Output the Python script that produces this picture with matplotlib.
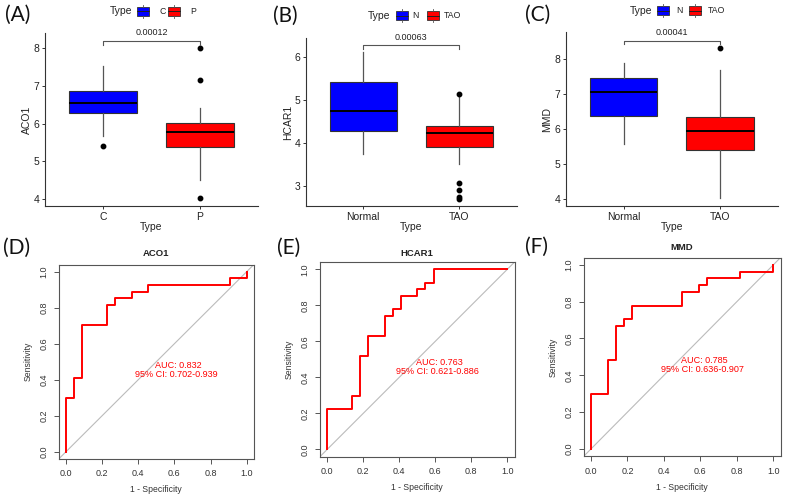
import matplotlib
matplotlib.use('Agg')
import matplotlib.pyplot as plt
from matplotlib.patches import Rectangle

W, H = 785, 499
plt.rcParams['font.family'] = ['Liberation Sans', 'DejaVu Sans']

# ---------------- data ----------------
genes = ['ACO1', 'HCAR1', 'MMD']
group_labels = [['C', 'P'], ['Normal', 'TAO'], ['Normal', 'TAO']]
legend_labels = [['C', 'P'], ['N', 'TAO'], ['N', 'TAO']]
pvalues = ['0.00012', '0.00063', '0.00041']

# box stats: [whisker low, Q1, median, Q3, whisker high]
aco1_ctrl = [5.68, 6.28, 6.55, 6.88, 7.52]
aco1_ctrl_out = [5.41]
aco1_case = [4.50, 5.39, 5.77, 6.03, 6.41]
aco1_case_out = [8.01, 7.16, 4.02]

hcar1_ctrl = [3.73, 4.27, 4.74, 5.40, 6.10]
hcar1_ctrl_out = []
hcar1_case = [3.50, 3.91, 4.22, 4.39, 5.05]
hcar1_case_out = [5.14, 3.06, 2.91, 2.75, 2.70]

mmd_ctrl = [5.56, 6.38, 7.06, 7.45, 7.89]
mmd_ctrl_out = []
mmd_case = [4.02, 5.39, 5.95, 6.35, 7.68]
mmd_case_out = [8.33]

box_yticks = [[4, 5, 6, 7, 8], [3, 4, 5, 6], [4, 5, 6, 7, 8]]
box_ylims = [(3.81, 8.41), (2.53, 6.43), (3.80, 8.77)]
bracket_y = [(8.10, 8.20), (6.17, 6.27), (8.43, 8.53)]

# ROC curve vertices (1 - specificity, sensitivity), step-post
roc_aco1_x = [0.0, 0.0, 0.045, 0.091, 0.227, 0.273, 0.364, 0.455, 0.909, 1.0]
roc_aco1_y = [0.0, 0.296, 0.407, 0.704, 0.815, 0.852, 0.889, 0.926, 0.963, 1.0]
roc_hcar1_x = [0.0, 0.0, 0.136, 0.182, 0.227, 0.318, 0.364, 0.409, 0.5, 0.545, 0.591, 1.0]
roc_hcar1_y = [0.0, 0.222, 0.296, 0.519, 0.630, 0.741, 0.778, 0.852, 0.889, 0.926, 1.0, 1.0]
roc_mmd_x = [0.0, 0.0, 0.091, 0.136, 0.182, 0.227, 0.5, 0.591, 0.636, 0.818, 1.0]
roc_mmd_y = [0.0, 0.296, 0.481, 0.667, 0.704, 0.778, 0.852, 0.889, 0.926, 0.963, 1.0]
auc_labels = ['AUC: 0.832', 'AUC: 0.763', 'AUC: 0.785']
ci_labels = ['95% CI: 0.702-0.939', '95% CI: 0.621-0.886', '95% CI: 0.636-0.907']
roc_ticks = [0.0, 0.2, 0.4, 0.6, 0.8, 1.0]

box_sets = [
    (aco1_ctrl, aco1_ctrl_out, aco1_case, aco1_case_out),
    (hcar1_ctrl, hcar1_ctrl_out, hcar1_case, hcar1_case_out),
    (mmd_ctrl, mmd_ctrl_out, mmd_case, mmd_case_out),
]
roc_sets = [(roc_aco1_x, roc_aco1_y), (roc_hcar1_x, roc_hcar1_y), (roc_mmd_x, roc_mmd_y)]

# ---------------- layout (pixels: left, right, top, bottom) ----------------
box_boxes = [(45, 258, 33, 206), (305.7, 516.7, 38, 206), (565.7, 778, 32.3, 206)]
box_ylab_x = [27, 288.3, 546.7]
box_xlab_y = [227, 227, 227]
roc_boxes = [(58.8, 253.9, 264.5, 458.9), (320.1, 514.5, 262.1, 456.5), (583.7, 780.6, 257.5, 456.3)]
roc_ylab_x = [28, 289.3, 552.7]
roc_xlab_y = [489, 487.7, 487.7]
roc_title_y = [253, 253, 248]

fig = plt.figure(figsize=(W / 100, H / 100), dpi=100)


def add_ax(b):
    l, r, t, bt = b
    return fig.add_axes([l / W, 1 - bt / H, (r - l) / W, (bt - t) / H])


def fx(b, x):
    return (x - b[0]) / (b[1] - b[0])


def fy(b, y):
    return (b[3] - y) / (b[3] - b[2])


BLUE = '#0000FF'
RED = '#FF0000'
EDGE = '#333333'

for i in range(3):
    b = box_boxes[i]
    ax = add_ax(b)
    c, co, p, po = box_sets[i]
    stats = []
    for s, o in ((c, co), (p, po)):
        stats.append(dict(whislo=s[0], q1=s[1], med=s[2], q3=s[3], whishi=s[4], fliers=o))
    bp = ax.bxp(stats, positions=[1, 2], widths=0.7, patch_artist=True, showcaps=False,
                boxprops=dict(edgecolor=EDGE, linewidth=0.8),
                medianprops=dict(color='black', linewidth=1.4),
                whiskerprops=dict(color='#555555', linewidth=0.9),
                flierprops=dict(marker='o', markerfacecolor='black', markeredgecolor='black',
                                markersize=3.2, linestyle='none'))
    for patch, col in zip(bp['boxes'], [BLUE, RED]):
        patch.set_facecolor(col)
    ax.set_xlim(0.4, 2.6)
    ax.set_ylim(*box_ylims[i])
    ax.set_yticks(box_yticks[i])
    ax.set_xticks([1, 2])
    ax.set_xticklabels(group_labels[i])
    for sp in ['top', 'right']:
        ax.spines[sp].set_visible(False)
    for sp in ['left', 'bottom']:
        ax.spines[sp].set_color(EDGE)
        ax.spines[sp].set_linewidth(0.8)
    ax.tick_params(axis='both', length=2.5, width=0.7, color=EDGE, labelsize=7.5,
                   labelcolor='#222222', pad=1.5)
    # bracket
    y0, y1 = bracket_y[i]
    ax.plot([1, 1, 2, 2], [y0, y1, y1, y0], color='#555555', lw=0.8)
    ax.text(1.5, y1 + 0.02 * (box_ylims[i][1] - box_ylims[i][0]), pvalues[i],
            ha='center', va='bottom', fontsize=6.5, color='#222222')
    ax.set_ylabel(genes[i], fontsize=7.5, color='#222222')
    ax.set_xlabel('Type', fontsize=7.5, color='#222222')
    ax.yaxis.set_label_coords(fx(b, box_ylab_x[i]), 0.5)
    ax.yaxis.label.set_va('center')
    ax.xaxis.set_label_coords(0.5, fy(b, box_xlab_y[i]))
    ax.xaxis.label.set_va('center')

for i in range(3):
    b = roc_boxes[i]
    ax = add_ax(b)
    ax.axline((0, 0), (1, 1), color='#bbbbbb', lw=0.8)
    xs, ys = roc_sets[i]
    ax.step(xs, ys, where='post', color=RED, lw=1.4)
    ax.set_xlim(-0.04, 1.04)
    ax.set_ylim(-0.04, 1.04)
    ax.set_xticks(roc_ticks)
    ax.set_yticks(roc_ticks)
    ax.set_xticklabels(['%.1f' % t for t in roc_ticks])
    ax.set_yticklabels(['%.1f' % t for t in roc_ticks], rotation=90, va='center')
    for sp in ax.spines.values():
        sp.set_color('#555555')
        sp.set_linewidth(0.8)
    ax.tick_params(axis='both', direction='out', length=3.5, width=0.7, color='#555555',
                   labelsize=6.5, labelcolor='#333333', pad=4)
    ax.text(0.62, 0.48, auc_labels[i], color=RED, fontsize=6.5, ha='center', va='center')
    ax.text(0.61, 0.43, ci_labels[i], color=RED, fontsize=6.5, ha='center', va='center')
    ax.text(0.5, fy(b, roc_title_y[i]), genes[i], transform=ax.transAxes, ha='center',
            va='center', fontsize=6.8, fontweight='bold', color='#222222')
    ax.set_ylabel('Sensitivity', fontsize=6.2, color='#333333')
    ax.set_xlabel('1 - Specificity', fontsize=6.2, color='#333333')
    ax.yaxis.set_label_coords(fx(b, roc_ylab_x[i]), 0.5)
    ax.yaxis.label.set_va('center')
    ax.xaxis.set_label_coords(0.5, fy(b, roc_xlab_y[i]))
    ax.xaxis.label.set_va('center')

# overlay for legends & panel labels
ov = fig.add_axes([0, 0, 1, 1], zorder=10)
ov.set_xlim(0, W)
ov.set_ylim(H, 0)
ov.axis('off')

leg_pos = [
    (110, 11, 137, 159, 168, 190),
    (368, 15.5, 396, 412, 427, 444),
    (630, 10.7, 657, 676, 689, 708),
]
for i, (tx, y, k1, l1, k2, l2) in enumerate(leg_pos):
    ov.text(tx, y, 'Type', fontsize=7.5, va='center', ha='left', color='#222222')
    for kx, lx, col, lab in ((k1, l1, BLUE, legend_labels[i][0]), (k2, l2, RED, legend_labels[i][1])):
        ov.add_patch(Rectangle((kx, y - 4.5), 12, 9, facecolor=col, edgecolor=EDGE, lw=0.6))
        ov.plot([kx, kx + 12], [y, y], color='#222222', lw=0.7)
        ov.plot([kx + 6, kx + 6], [y - 6.5, y - 4.5], color='#555555', lw=0.6)
        ov.plot([kx + 6, kx + 6], [y + 4.5, y + 6.5], color='#555555', lw=0.6)
        ov.text(lx, y, lab, fontsize=6.3, va='center', ha='left', color='#222222')

panel_labels = ['(A)', '(B)', '(C)', '(D)', '(E)', '(F)']
panel_pos = [(5, 15), (272.7, 15.7), (525, 15), (3, 248), (277, 248), (525, 247)]
for lab, (x, y) in zip(panel_labels, panel_pos):
    ov.text(x, y, lab, fontsize=15, ha='left', va='center', family=['Lato', 'DejaVu Sans'],
            color='#111111')

fig.savefig('out.png', dpi=100)
